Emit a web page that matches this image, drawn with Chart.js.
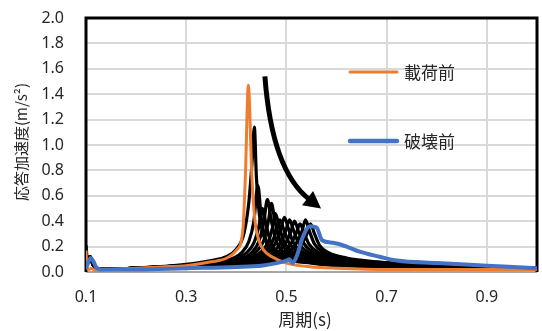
<!DOCTYPE html>
<html>
<head>
<meta charset="utf-8">
<script src="https://cdn.jsdelivr.net/npm/chart.js@4"></script>
<style>
  html, body { margin: 0; padding: 0; background: #fff; }
</style>
</head>
<body>
<canvas id="spectrumChart" width="542" height="331"></canvas>
<script>
/* ===============================
   DATA (period [s], acceleration [m/s2])
================================ */

const xTickValues = [0.1, 0.3, 0.5, 0.7, 0.9];
const yTickValues = [0, 0.2, 0.4, 0.6, 0.8, 1.0, 1.2, 1.4, 1.6, 1.8, 2.0];
const seriesNames = ["載荷前", "破壊前"];
const xTitle = "周期(s)";
const yTitle = "応答加速度(m/s²)";

/* before loading (orange) */
const beforeLoading = [
  [0.1, 0.17], [0.102, 0.04], [0.106, 0.02], [0.11, 0.03], [0.12, 0.01], [0.15, 0.02],
  [0.2, 0.03], [0.25, 0.04], [0.3, 0.05], [0.35, 0.08], [0.381, 0.11], [0.4, 0.17],
  [0.413, 0.33], [0.418, 0.75], [0.424, 1.47], [0.431, 0.75], [0.437, 0.41], [0.445, 0.25],
  [0.455, 0.17], [0.471, 0.12], [0.5, 0.07], [0.55, 0.04], [0.6, 0.03], [0.7, 0.02],
  [0.8, 0.02], [1.0, 0.02]
];

/* before failure (blue) */
const beforeFailure = [
  [0.1, 0.03], [0.104, 0.07], [0.109, 0.11], [0.114, 0.09], [0.12, 0.04], [0.13, 0.02],
  [0.2, 0.02], [0.3, 0.03], [0.4, 0.04], [0.45, 0.05], [0.48, 0.07], [0.5, 0.09],
  [0.506, 0.1], [0.512, 0.07], [0.52, 0.12], [0.533, 0.28], [0.547, 0.36], [0.56, 0.35],
  [0.571, 0.25], [0.593, 0.23], [0.62, 0.2], [0.646, 0.16], [0.686, 0.12], [0.72, 0.09],
  [0.8, 0.07], [0.9, 0.05], [1.0, 0.03]
];

/* intermediate steps (black) */
const blackLead = [[0.1, 0.12], [0.104, 0.1], [0.108, 0.12], [0.114, 0.06], [0.125, 0.02], [0.2, 0.03]];

const blackSteps = [
  [[0.1, 0.21], [0.103, 0.09], [0.109, 0.12], [0.115, 0.05], [0.13, 0.02], [0.2, 0.03],
   [0.3, 0.06], [0.35, 0.09], [0.38, 0.12], [0.4, 0.18], [0.415, 0.3], [0.425, 0.55],
   [0.432, 0.9], [0.436, 1.14], [0.44, 0.75], [0.446, 0.45], [0.455, 0.28], [0.47, 0.17],
   [0.5, 0.1], [0.55, 0.07], [0.6, 0.05], [0.7, 0.04], [0.8, 0.03], [1.0, 0.03]],
  blackLead.concat([[0.3, 0.05], [0.38, 0.09], [0.41, 0.15], [0.425, 0.24], [0.435, 0.4], [0.443, 0.68],
   [0.45, 0.42], [0.46, 0.24], [0.48, 0.14], [0.52, 0.09], [0.6, 0.06], [0.7, 0.04], [0.85, 0.03], [1.0, 0.03]]),
  blackLead.concat([[0.3, 0.05], [0.39, 0.09], [0.42, 0.15], [0.435, 0.23], [0.445, 0.36], [0.452, 0.5],
   [0.46, 0.36], [0.47, 0.22], [0.49, 0.14], [0.53, 0.09], [0.6, 0.06], [0.7, 0.04], [0.85, 0.03], [1.0, 0.03]]),
  blackLead.concat([[0.3, 0.05], [0.4, 0.09], [0.43, 0.15], [0.445, 0.24], [0.455, 0.4], [0.462, 0.57],
   [0.47, 0.4], [0.48, 0.24], [0.5, 0.14], [0.54, 0.09], [0.6, 0.07], [0.7, 0.05], [0.85, 0.04], [1.0, 0.03]]),
  blackLead.concat([[0.3, 0.05], [0.41, 0.1], [0.44, 0.16], [0.455, 0.25], [0.464, 0.4], [0.47, 0.54],
   [0.477, 0.4], [0.487, 0.25], [0.505, 0.15], [0.54, 0.1], [0.6, 0.07], [0.7, 0.05], [0.85, 0.04], [1.0, 0.03]]),
  blackLead.concat([[0.3, 0.05], [0.42, 0.1], [0.45, 0.16], [0.465, 0.25], [0.472, 0.35], [0.478, 0.46],
   [0.486, 0.35], [0.496, 0.23], [0.515, 0.15], [0.55, 0.1], [0.62, 0.07], [0.7, 0.05], [0.85, 0.04], [1.0, 0.03]]),
  blackLead.concat([[0.3, 0.05], [0.42, 0.09], [0.455, 0.15], [0.472, 0.24], [0.48, 0.33], [0.487, 0.41],
   [0.495, 0.33], [0.505, 0.23], [0.525, 0.15], [0.56, 0.1], [0.62, 0.07], [0.7, 0.05], [0.85, 0.04], [1.0, 0.03]]),
  blackLead.concat([[0.3, 0.05], [0.43, 0.09], [0.463, 0.15], [0.48, 0.24], [0.489, 0.34], [0.496, 0.43],
   [0.504, 0.34], [0.514, 0.23], [0.535, 0.15], [0.57, 0.1], [0.63, 0.07], [0.7, 0.06], [0.85, 0.04], [1.0, 0.03]]),
  blackLead.concat([[0.3, 0.05], [0.44, 0.09], [0.472, 0.15], [0.49, 0.24], [0.499, 0.33], [0.506, 0.41],
   [0.514, 0.33], [0.524, 0.23], [0.545, 0.15], [0.58, 0.1], [0.64, 0.07], [0.72, 0.06], [0.85, 0.04], [1.0, 0.03]]),
  blackLead.concat([[0.3, 0.05], [0.45, 0.09], [0.482, 0.15], [0.5, 0.24], [0.509, 0.32], [0.516, 0.4],
   [0.524, 0.32], [0.534, 0.23], [0.555, 0.15], [0.59, 0.1], [0.65, 0.08], [0.72, 0.06], [0.85, 0.04], [1.0, 0.03]]),
  blackLead.concat([[0.3, 0.05], [0.45, 0.08], [0.49, 0.14], [0.51, 0.23], [0.52, 0.31], [0.527, 0.38],
   [0.535, 0.31], [0.545, 0.22], [0.565, 0.15], [0.6, 0.1], [0.66, 0.08], [0.74, 0.06], [0.85, 0.04], [1.0, 0.03]]),
  blackLead.concat([[0.3, 0.05], [0.46, 0.08], [0.5, 0.14], [0.52, 0.23], [0.531, 0.32], [0.538, 0.41],
   [0.546, 0.32], [0.556, 0.22], [0.575, 0.15], [0.61, 0.1], [0.67, 0.08], [0.75, 0.06], [0.85, 0.04], [1.0, 0.03]]),
  blackLead.concat([[0.3, 0.05], [0.47, 0.08], [0.51, 0.13], [0.53, 0.22], [0.541, 0.3], [0.548, 0.38],
   [0.556, 0.3], [0.566, 0.21], [0.585, 0.15], [0.62, 0.11], [0.68, 0.08], [0.76, 0.06], [0.85, 0.04], [1.0, 0.03]])
];

/* arrow annotation (data units): tail, bend, tip */
const arrowFrom = [0.457, 1.54];
const arrowBend = [0.471, 0.80];
const arrowTo = [0.569, 0.50];

/* ===============================
   STYLE
================================ */
const ORANGE = "#ED7D31";
const BLUE = "#4472C4";
const TEXT = "#262626";
const NUM_FONT = "'Noto Sans', 'Noto Sans CJK JP', sans-serif";
const JP_FONT = "'Noto Sans CJK JP', 'Noto Sans', sans-serif";

const toPoints = arr => arr.map(p => ({ x: p[0], y: p[1] }));

function lineSet(points, color, width, order) {
  return {
    data: toPoints(points),
    borderColor: color,
    borderWidth: width,
    pointRadius: 0,
    fill: false,
    cubicInterpolationMode: "monotone",
    order: order
  };
}

/* -------------------------------
   Frame, arrow, legend, titles
-------------------------------- */
const decorations = {
  id: "decorations",
  beforeDatasetsDraw(chart) {
    const { ctx, chartArea: a } = chart;
    ctx.save();
    ctx.strokeStyle = "#a6a6a6";
    ctx.lineWidth = 2;
    ctx.beginPath();
    ctx.moveTo(a.left, a.bottom);
    ctx.lineTo(a.right, a.bottom);
    ctx.stroke();

    ctx.strokeStyle = "#000";
    ctx.lineWidth = 3;
    ctx.beginPath();
    ctx.moveTo(a.left, a.bottom);
    ctx.lineTo(a.left, a.top);
    ctx.lineTo(a.right, a.top);
    ctx.lineTo(a.right, a.bottom);
    ctx.stroke();
    ctx.restore();
  },
  afterDatasetsDraw(chart) {
    const { ctx } = chart;
    const sx = chart.scales.x, sy = chart.scales.y;
    const p0 = [sx.getPixelForValue(arrowFrom[0]), sy.getPixelForValue(arrowFrom[1])];
    const pc = [sx.getPixelForValue(arrowBend[0]), sy.getPixelForValue(arrowBend[1])];
    const p1 = [sx.getPixelForValue(arrowTo[0]), sy.getPixelForValue(arrowTo[1])];

    const dx = p1[0] - pc[0], dy = p1[1] - pc[1];
    const len = Math.hypot(dx, dy);
    const ux = dx / len, uy = dy / len;
    const headLen = 17, headHalf = 9;
    const base = [p1[0] - ux * headLen, p1[1] - uy * headLen];

    ctx.save();
    ctx.strokeStyle = "#000";
    ctx.fillStyle = "#000";
    ctx.lineWidth = 5;
    ctx.beginPath();
    ctx.moveTo(p0[0], p0[1]);
    ctx.quadraticCurveTo(pc[0], pc[1], base[0] + ux * 2, base[1] + uy * 2);
    ctx.stroke();
    ctx.beginPath();
    ctx.moveTo(p1[0], p1[1]);
    ctx.lineTo(base[0] - uy * headHalf, base[1] + ux * headHalf);
    ctx.lineTo(base[0] + uy * headHalf, base[1] - ux * headHalf);
    ctx.closePath();
    ctx.fill();

    // legend inside the plot
    const items = [
      { name: seriesNames[0], color: ORANGE, width: 3, y: 72 },
      { name: seriesNames[1], color: BLUE, width: 4.5, y: 141 }
    ];
    ctx.lineCap = "round";
    ctx.font = "17px " + JP_FONT;
    ctx.textBaseline = "middle";
    ctx.textAlign = "left";
    items.forEach(it => {
      ctx.strokeStyle = it.color;
      ctx.lineWidth = it.width;
      ctx.beginPath();
      ctx.moveTo(350, it.y);
      ctx.lineTo(397, it.y);
      ctx.stroke();
      ctx.fillStyle = TEXT;
      ctx.fillText(it.name, 404, it.y + 1);
    });
    ctx.restore();
  },
  afterDraw(chart) {
    const { ctx } = chart;
    ctx.save();
    ctx.fillStyle = TEXT;
    ctx.textAlign = "center";
    ctx.textBaseline = "middle";
    ctx.font = "17px " + JP_FONT;
    ctx.fillText(xTitle, 305, 320);
    ctx.font = "15px " + JP_FONT;
    ctx.translate(21, 142);
    ctx.rotate(-Math.PI / 2);
    ctx.fillText(yTitle, 0, 0);
    ctx.restore();
  }
};

/* ===============================
   CHART
================================ */
const datasets = [
  lineSet(beforeFailure, BLUE, 4, 0),
  lineSet(beforeLoading, ORANGE, 3, 1)
].concat(blackSteps.map(s => lineSet(s, "#000", 3.2, 2)));

new Chart(document.getElementById("spectrumChart"), {
  type: "line",
  data: { datasets: datasets },
  options: {
    responsive: false,
    animation: false,
    layout: { padding: { top: 18, right: 5, left: 0, bottom: 0 } },
    plugins: {
      legend: { display: false },
      tooltip: { enabled: false }
    },
    scales: {
      x: {
        type: "linear",
        min: 0.1,
        max: 1.0,
        afterBuildTicks: s => { s.ticks = xTickValues.map(v => ({ value: v })); },
        afterFit: s => { s.height = 59; s.paddingLeft = 0; s.paddingRight = 0; },
        grid: { color: "#d9d9d9", lineWidth: 2, drawTicks: false },
        border: { display: false },
        ticks: {
          padding: 16,
          color: TEXT,
          font: { family: NUM_FONT, size: 16 },
          callback: v => v.toFixed(1)
        }
      },
      y: {
        min: 0,
        max: 2.0,
        afterBuildTicks: s => { s.ticks = yTickValues.map(v => ({ value: v })); },
        afterFit: s => { s.width = 86; s.paddingTop = 0; s.paddingBottom = 0; },
        grid: { color: "#d9d9d9", lineWidth: 2, drawTicks: false },
        border: { display: false },
        ticks: {
          padding: 22,
          color: TEXT,
          font: { family: NUM_FONT, size: 16 },
          callback: v => v.toFixed(1)
        }
      }
    }
  },
  plugins: [decorations]
});
</script>
</body>
</html>
